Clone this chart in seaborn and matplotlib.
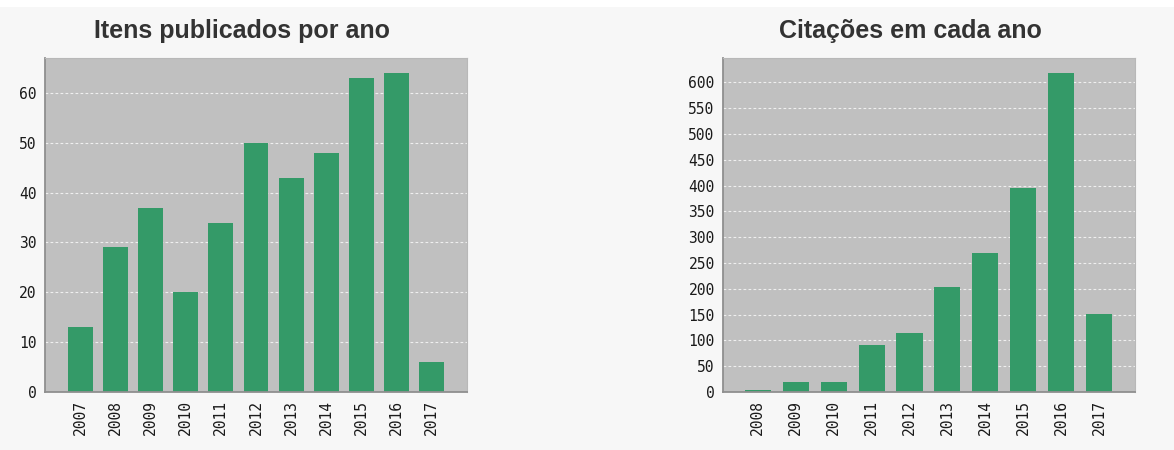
import numpy as np
import pandas as pd
import seaborn as sns
import matplotlib
matplotlib.use("Agg")
import matplotlib.pyplot as plt
from matplotlib.patches import Rectangle

# ---- data ----
years_pub = ["2007", "2008", "2009", "2010", "2011", "2012", "2013", "2014", "2015", "2016", "2017"]
items_pub = [13, 29, 37, 20, 34, 50, 43, 48, 63, 64, 6]

years_cit = ["2008", "2009", "2010", "2011", "2012", "2013", "2014", "2015", "2016", "2017"]
citations = [3, 19, 19, 92, 114, 204, 270, 396, 618, 152]

title_pub = "Itens publicados por ano"
title_cit = "Citações em cada ano"

# ---- style ----
sns.set_style("white")
plt.rcParams["font.family"] = ["DejaVu Sans"]

BAR = "#349a68"
PLOT_BG = "#c0c0c0"
PANEL_BG = "#f7f7f7"
TICK_FONT = "DejaVu Sans Mono"

W, H = 1174, 450
fig = plt.figure(figsize=(W / 100, H / 100), dpi=100, facecolor=PANEL_BG)
fig.patches.append(Rectangle((0, 1 - 7 / H), 1, 7 / H, transform=fig.transFigure,
                             facecolor="white", edgecolor="none", zorder=0))


def style_axes(ax, yticks):
    ax.set_facecolor(PLOT_BG)
    ax.set_yticks(yticks)
    ax.yaxis.grid(True, color="white", linestyle=(0, (2.5, 2)), linewidth=0.8, alpha=0.75)
    ax.xaxis.grid(False)
    ax.set_axisbelow(True)
    for s in ["left", "bottom"]:
        ax.spines[s].set_color("#8f8f8f")
        ax.spines[s].set_linewidth(1.3)
    for s in ["top", "right"]:
        ax.spines[s].set_color("#b8b8b8")
        ax.spines[s].set_linewidth(0.8)
    ax.tick_params(axis="y", length=3, color="#8f8f8f", width=1, pad=3,
                   labelsize=10.5, labelcolor="#1a1a1a")
    ax.tick_params(axis="x", length=0, pad=6, labelsize=10.5,
                   labelcolor="#1a1a1a", labelrotation=90)
    for lab in ax.get_xticklabels() + ax.get_yticklabels():
        lab.set_fontfamily(TICK_FONT)
    ax.set_xlabel("")
    ax.set_ylabel("")


# left chart
ax1 = fig.add_axes([45 / W, 58 / H, 422 / W, 334 / H])
sns.barplot(x=years_pub, y=items_pub, color=BAR, saturation=1, width=0.71,
            edgecolor="none", linewidth=0, ax=ax1)
ax1.set_xlim(-1.0, 11.0)
ax1.set_ylim(0, 67)
style_axes(ax1, np.arange(0, 61, 10))

# right chart
ax2 = fig.add_axes([723 / W, 58 / H, 412 / W, 334 / H])
sns.barplot(x=years_cit, y=citations, color=BAR, saturation=1, width=0.69,
            edgecolor="none", linewidth=0, ax=ax2)
ax2.set_xlim(-0.92, 9.95)
ax2.set_ylim(0, 647)
style_axes(ax2, np.arange(0, 601, 50))

# titles
fig.text(242 / W, 1 - 31 / H, title_pub, ha="center", va="center",
         fontsize=18, fontweight="bold", color="#333333", family="Liberation Sans")
fig.text(910 / W, 1 - 31 / H, title_cit, ha="center", va="center",
         fontsize=18, fontweight="bold", color="#333333", family="Liberation Sans")

fig.savefig("out.png", dpi=100, facecolor=fig.get_facecolor())
